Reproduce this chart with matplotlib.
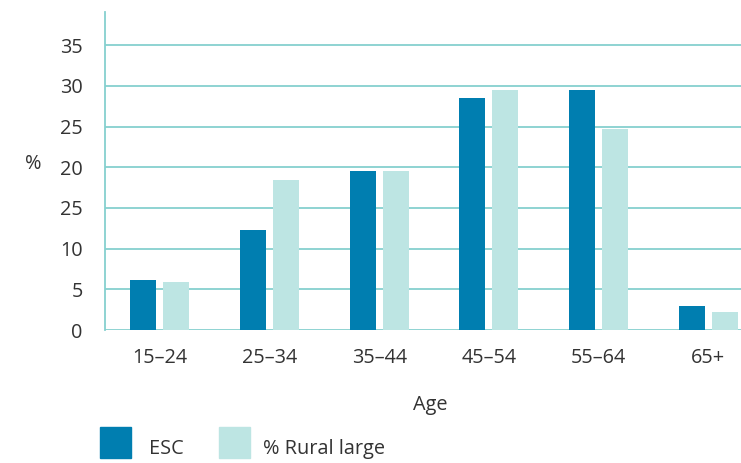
import numpy as np
import matplotlib

matplotlib.use("Agg")

import matplotlib.pyplot as plt
from matplotlib.patches import Rectangle

plt.rcParams["font.family"] = ["Open Sans", "DejaVu Sans"]

# Age distribution: ESC vs rural large farms
age_groups = ["15–24", "25–34", "35–44", "45–54", "55–64", "65+"]
esc = [6.1, 12.3, 19.5, 28.5, 29.5, 2.95]
rural_large = [5.9, 18.4, 19.5, 29.5, 24.7, 2.2]
y_ticks = [0, 5, 10, 15, 20, 25, 30, 35]
y_tick_labels = ["0", "5", "10", "25", "20", "25", "30", "35"]

dark = "#007EB0"
light = "#BDE5E3"
grid = "#86D0CF"
text = "#333333"
fs = 14.3

fig = plt.figure(figsize=(7.41, 4.63), dpi=100)
ax = fig.add_axes([105 / 741, 1 - 330 / 463, 1 - 105 / 741, 318 / 463])

x = np.arange(len(age_groups))
w = 0.237
ax.bar(x - 0.15, esc, width=w, color=dark, zorder=3)
ax.bar(x + 0.15, rural_large, width=w, color=light, zorder=3)

ax.set_xlim(-0.5, 5.30)
ax.set_ylim(0, 39.07)
ax.set_yticks(y_ticks)
ax.set_yticklabels(y_tick_labels)
ax.set_xticks(x)
ax.set_xticklabels(age_groups)
ax.tick_params(axis="both", length=0, labelsize=fs, colors=text)
ax.tick_params(axis="y", pad=16)
ax.tick_params(axis="x", pad=13)

ax.yaxis.grid(True, color=grid, linewidth=1.3, zorder=1)
for side in ["top", "right", "bottom"]:
    ax.spines[side].set_visible(False)
ax.spines["left"].set_color(grid)
ax.spines["left"].set_linewidth(1.3)

fig.text(33 / 741, 1 - 164 / 463, "%", fontsize=fs, color=text, ha="center", va="center")
fig.text(430 / 741, 1 - 405 / 463, "Age", fontsize=fs, color=text, ha="center", va="center")

# legend drawn as figure patches
for x0, tx, label, color in [(100, 149, "ESC", dark), (219, 263, "% Rural large", light)]:
    fig.patches.append(Rectangle((x0 / 741, 1 - 458 / 463), 31 / 741, 31 / 463,
                                 transform=fig.transFigure, color=color))
    fig.text(tx / 741, 1 - 449 / 463, label, fontsize=fs, color=text,
             ha="left", va="center")

fig.savefig("out.png", dpi=100)
